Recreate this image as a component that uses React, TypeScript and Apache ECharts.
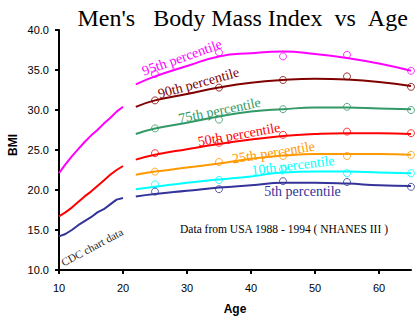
import React, { useEffect, useRef } from "react";
import * as echarts from "echarts";

const fitAges = [22, 25, 30, 35, 40, 45, 50, 55, 60, 65];
const obsAges = [25, 35, 45, 55, 65];
const cdcAges = [10, 11, 12, 13, 14, 15, 16, 17, 18, 19, 20];

const p95Fit = [33.2, 34.2, 35.5, 36.7, 37.1, 37.3, 37.0, 36.5, 35.8, 34.9];
const p90Fit = [30.4, 31.2, 32.0, 32.8, 33.4, 33.75, 33.9, 33.8, 33.5, 33.0];
const p75Fit = [27.0, 27.7, 28.4, 29.2, 29.8, 30.1, 30.3, 30.3, 30.2, 30.1];
const p50Fit = [23.8, 24.4, 25.1, 25.75, 26.3, 26.75, 27.0, 27.1, 27.1, 27.0];
const p25Fit = [21.9, 22.3, 22.8, 23.3, 23.9, 24.3, 24.5, 24.5, 24.5, 24.4];
const p10Fit = [20.1, 20.4, 20.9, 21.3, 21.7, 22.2, 22.3, 22.3, 22.2, 22.1];
const p5Fit = [19.2, 19.5, 19.9, 20.3, 20.6, 20.9, 20.9, 20.8, 20.6, 20.5];

const p95Obs = [34.5, 37.2, 36.7, 36.9, 34.9];
const p90Obs = [31.2, 32.8, 33.75, 34.2, 32.9];
const p75Obs = [27.7, 28.8, 30.1, 30.4, 30.0];
const p50Obs = [24.6, 25.9, 26.9, 27.3, 27.1];
const p25Obs = [22.3, 23.5, 24.25, 24.25, 24.4];
const p10Obs = [20.7, 21.25, 22.6, 22.1, 22.1];
const p5Obs = [19.8, 20.1, 21.1, 21.0, 20.4];

const cdc95 = [22.1, 23.2, 24.2, 25.1, 26.0, 26.8, 27.5, 28.3, 29.0, 29.8, 30.4];
const cdc50 = [16.7, 17.2, 17.8, 18.5, 19.2, 19.8, 20.5, 21.2, 21.9, 22.5, 23.0];
const cdc5 = [14.2, 14.5, 15.0, 15.6, 16.1, 16.6, 17.2, 17.6, 18.2, 18.8, 19.0];

const percentileNames = [
  "95th percentile",
  "90th percentile",
  "75th percentile",
  "50th percentile",
  "25th percentile",
  "10th percentile",
  "5th percentile",
];
const colors = ["#FF00FF", "#800000", "#339966", "#FF0000", "#FF9900", "#00FFFF", "#333399"];
const fits = [p95Fit, p90Fit, p75Fit, p50Fit, p25Fit, p10Fit, p5Fit];
const obs = [p95Obs, p90Obs, p75Obs, p50Obs, p25Obs, p10Obs, p5Obs];

const titleText = "Men's\u00a0\u00a0\u00a0Body Mass Index\u00a0\u00a0vs\u00a0\u00a0Age";
const noteText = "Data from USA 1988 - 1994 ( NHANES III )";
const cdcText = "CDC chart data";

// label placement (center x, y, angle in degrees)
const labelPlacement = [
  [182, 57.5, 19.5],
  [198.5, 83, 15.5],
  [219.5, 110.5, 11.5],
  [239, 134.5, 10],
  [273.5, 152.5, 9],
  [293, 165.5, 7],
  [302.5, 191, 0],
];

const zip = (xs: number[], ys: number[]) => xs.map((x, i) => [x, ys[i]]);

export default function App() {
  const ref = useRef<HTMLDivElement>(null);
  useEffect(() => {
    if (!ref.current) return;
    const chart = echarts.init(ref.current, null, { renderer: "svg" });
    const serif = "'Liberation Serif', 'Times New Roman', serif";
    const sans = "'Liberation Sans', Arial, sans-serif";

    const series: any[] = [];
    [cdc95, cdc50, cdc5].forEach((d, i) => {
      series.push({
        type: "line",
        data: zip(cdcAges, d),
        showSymbol: false,
        lineStyle: { color: [colors[0], colors[3], colors[6]][i], width: 2 },
        silent: true,
      });
    });
    fits.forEach((d, i) => {
      series.push({
        type: "line",
        name: percentileNames[i],
        data: zip(fitAges, d),
        smooth: true,
        showSymbol: false,
        lineStyle: { color: colors[i], width: 2 },
        silent: true,
      });
      series.push({
        type: "scatter",
        data: zip(obsAges, obs[i]),
        symbol: "circle",
        symbolSize: 7,
        itemStyle: { color: "rgba(0,0,0,0)", borderColor: colors[i], borderWidth: 1 },
        silent: true,
        z: 3,
      });
    });

    const graphics: any[] = percentileNames.map((n, i) => ({
      type: "text",
      x: labelPlacement[i][0],
      y: labelPlacement[i][1],
      rotation: (labelPlacement[i][2] * Math.PI) / 180,
      style: {
        text: n,
        fill: colors[i],
        font: `14px ${serif}`,
        align: "center",
        verticalAlign: "middle",
      },
    }));
    graphics.push({
      type: "text",
      x: 92,
      y: 247,
      rotation: (28 * Math.PI) / 180,
      style: { text: cdcText, fill: "#222", font: `11px ${serif}`, align: "center", verticalAlign: "middle" },
    });
    graphics.push({
      type: "text",
      x: 284,
      y: 228.5,
      style: { text: noteText, fill: "#000", font: `11.5px ${serif}`, align: "center", verticalAlign: "middle" },
    });
    graphics.push({
      type: "text",
      x: 12.5,
      y: 145,
      rotation: Math.PI / 2,
      style: { text: "BMI", fill: "#000", font: `bold 12px ${sans}`, align: "center", verticalAlign: "middle" },
    });

    chart.setOption({
      animation: false,
      backgroundColor: "#fff",
      title: {
        text: titleText,
        left: 77.5,
        top: 6,
        padding: 0,
        textStyle: { fontFamily: serif, fontSize: 24, fontWeight: "normal", color: "#000" },
      },
      grid: { left: 59, right: 8, top: 30, bottom: 53 },
      xAxis: {
        type: "value",
        min: 10,
        max: 65,
        interval: 10,
        name: "Age",
        nameLocation: "middle",
        nameGap: 33,
        nameTextStyle: { fontFamily: sans, fontSize: 12, fontWeight: "bold", color: "#000" },
        axisLine: { show: true, onZero: false, lineStyle: { color: "#000", width: 2 } },
        axisTick: { show: true, length: 4, lineStyle: { color: "#000", width: 2 } },
        axisLabel: {
          margin: 12,
          fontFamily: sans,
          fontSize: 11,
          color: "#000",
          showMaxLabel: false,
          formatter: (v: number) => (v % 10 === 0 ? String(v) : ""),
        },
        splitLine: { show: false },
      },
      yAxis: {
        type: "value",
        min: 10,
        max: 40,
        interval: 5,
        axisLine: { show: true, onZero: false, lineStyle: { color: "#000", width: 2 } },
        axisTick: { show: true, length: 4, lineStyle: { color: "#000", width: 2 } },
        axisLabel: {
          margin: 10,
          fontFamily: sans,
          fontSize: 11,
          color: "#000",
          formatter: (v: number) => v.toFixed(1),
        },
        splitLine: { show: false },
      },
      graphic: graphics,
      series,
    });
    return () => chart.dispose();
  }, []);
  return (
    <div
      ref={ref}
      style={{ position: "absolute", left: 0, top: 0, width: 419, height: 323 }}
    />
  );
}
